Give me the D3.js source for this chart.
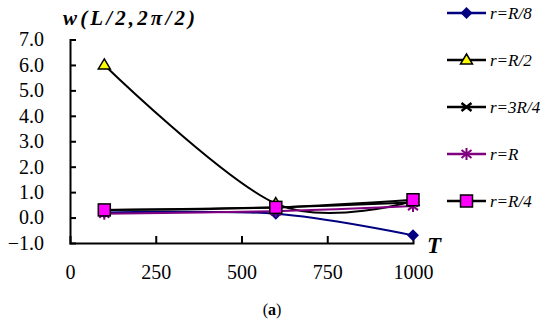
<!DOCTYPE html>
<html><head><meta charset="utf-8">
<script src="https://cdn.jsdelivr.net/npm/d3@7"></script>
<style>
body{margin:0;background:#fff}
svg{display:block}
</style>
</head><body>
<svg id="c" width="550" height="323"></svg>
<script>
const temps = [100, 600, 1000];
const seriesNames = ["r=R/8", "r=R/2", "r=3R/4", "r=R", "r=R/4"];
const valsR8 = [0.2, 0.15, -0.7];
const valsR2 = [6.0, 0.55, 0.65];
const vals3R4 = [0.3, 0.4, 0.6];
const valsR = [0.15, 0.25, 0.45];
const valsR4 = [0.3, 0.4, 0.7];
const xTicks = [0, 250, 500, 750, 1000];
const yTicks = [-1, 0, 1, 2, 3, 4, 5, 6, 7];

const FONT = "Liberation Serif";
const svg = d3.select("#c");
const x = d3.scaleLinear().domain([0, 1000]).range([70, 413]);
const y = d3.scaleLinear().domain([-1, 7]).range([243, 39.5]);

// axes
const gx = svg.append("g").attr("transform", "translate(0,243)")
  .call(d3.axisBottom(x).tickValues(xTicks).tickSize(-7).tickPadding(22).tickFormat(d3.format("d")));
const gy = svg.append("g").attr("transform", "translate(70,0)")
  .call(d3.axisLeft(y).tickValues(yTicks).tickSize(-6).tickPadding(26).tickFormat(d3.format(".1f")));
[gx, gy].forEach(g => {
  g.attr("font-family", null);
  g.select(".domain").attr("stroke", "#000").attr("stroke-width", 2);
  g.selectAll(".tick line").attr("stroke", "#000").attr("stroke-width", 2);
  g.selectAll(".tick text").style("font-family", FONT).style("font-size", "20px").attr("fill", "#000");
});
gx.selectAll(".tick").filter(d => d === 0 || d === 1000).select("line").remove();
gy.selectAll(".tick").filter(d => d === -1).select("line").remove();
gy.selectAll(".tick text").text(d => d < 0 ? "\u2212" + d3.format(".1f")(-d) : d3.format(".1f")(d));
gx.selectAll(".tick text").attr("dy", "0.72em");

const series = [
  {name: seriesNames[0], vals: valsR8, line: "#000080", marker: "diamond"},
  {name: seriesNames[1], vals: valsR2, line: "#000", marker: "triangle"},
  {name: seriesNames[2], vals: vals3R4, line: "#000", marker: "x"},
  {name: seriesNames[3], vals: valsR, line: "#800080", marker: "star"},
  {name: seriesNames[4], vals: valsR4, line: "#000", marker: "square"}
];

const lineGen = d3.line().x(d => x(d[0])).y(d => y(d[1])).curve(d3.curveCardinal.tension(0));

function drawMarker(g, type, cx, cy) {
  if (type === "diamond") {
    g.append("path").attr("d", `M${cx},${cy-6}L${cx+6},${cy}L${cx},${cy+6}L${cx-6},${cy}Z`).attr("fill", "#000080");
  } else if (type === "triangle") {
    g.append("path").attr("d", `M${cx},${cy-6}L${cx+6},${cy+4}L${cx-6},${cy+4}Z`).attr("fill", "#ffff00").attr("stroke", "#000").attr("stroke-width", 1.5);
  } else if (type === "x") {
    g.append("path").attr("d", `M${cx-5},${cy-4}L${cx+5},${cy+4}M${cx-5},${cy+4}L${cx+5},${cy-4}`).attr("stroke", "#000").attr("stroke-width", 2.5);
  } else if (type === "star") {
    g.append("path").attr("d", `M${cx-5},${cy-4}L${cx+5},${cy+4}M${cx-5},${cy+4}L${cx+5},${cy-4}M${cx},${cy-6}L${cx},${cy+6}`).attr("stroke", "#800080").attr("stroke-width", 2);
  } else if (type === "square") {
    g.append("rect").attr("x", cx-6).attr("y", cy-6).attr("width", 12).attr("height", 12).attr("fill", "#ff00ff").attr("stroke", "#000").attr("stroke-width", 1.5);
  }
}

const plot = svg.append("g");
series.forEach(s => {
  const pts = temps.map((t, i) => [t, s.vals[i]]);
  plot.append("path").attr("d", lineGen(pts)).attr("fill", "none").attr("stroke", s.line).attr("stroke-width", 2);
});
series.forEach(s => {
  temps.forEach((t, i) => drawMarker(plot, s.marker, x(t), y(s.vals[i])));
});

// legend
const legY = [13, 60, 107, 154, 201];
series.forEach((s, i) => {
  const g = svg.append("g");
  g.append("line").attr("x1", 447).attr("x2", 486).attr("y1", legY[i]).attr("y2", legY[i]).attr("stroke", s.line).attr("stroke-width", 2.5);
  drawMarker(g, s.marker, 466.5, legY[i]);
  g.append("text").attr("x", 490).attr("y", legY[i] + 5.5).style("font-family", FONT).style("font-style", "italic").style("font-size", "17px").attr("fill", "#000").text(s.name);
});

// titles
svg.append("text").attr("x", 63).attr("y", 25).style("font-family", FONT).style("font-style", "italic").style("font-weight", "bold").style("font-size", "21px")
  .attr("textLength", 132).attr("lengthAdjust", "spacing").text("w(L/2,2\u03c0/2)");
svg.append("text").attr("x", 427).attr("y", 253).style("font-family", FONT).style("font-style", "italic").style("font-weight", "bold").style("font-size", "23px").text("T");
const cap = svg.append("text").attr("x", 272).attr("y", 315).attr("text-anchor", "middle").style("font-family", FONT).style("font-size", "16px");
cap.append("tspan").text("(");
cap.append("tspan").style("font-weight", "bold").text("a");
cap.append("tspan").text(")");
</script>
</body></html>
